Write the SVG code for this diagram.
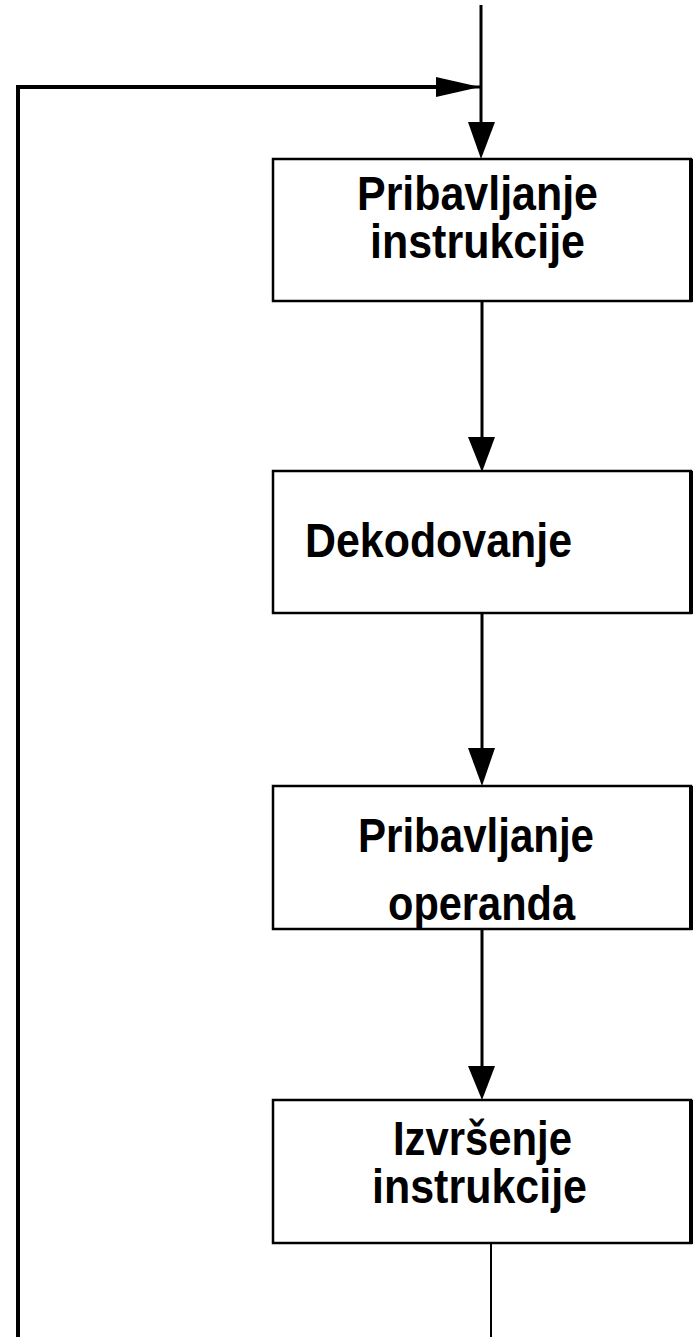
<svg xmlns="http://www.w3.org/2000/svg" width="696" height="1337" viewBox="0 0 696 1337">
  <style>
    .box { fill: #ffffff; stroke: #000000; stroke-width: 2.5; }
    .edge { fill: none; stroke: #000000; stroke-width: 4; }
    .line { fill: none; stroke: #000000; stroke-width: 3; }
    .loop { fill: none; stroke: #000000; stroke-width: 4; }
    .thin { fill: none; stroke: #000000; stroke-width: 2; }
    .head { fill: #000000; }
    .label { font-family: "Liberation Sans", Arial, sans-serif; font-weight: bold; font-size: 49px; fill: #000000; }
  </style>

  <g id="connectors">
    <!-- entry line from the top -->
    <line class="line" x1="481" y1="5" x2="481" y2="125"/>
    <polygon class="head" points="468,122 495,122 481,159"/>
    <!-- loop back from the last step -->
    <polyline class="loop" points="18,1337 18,87 440,87"/>
    <line class="line" x1="436" y1="87" x2="481" y2="87"/>
    <polygon class="head" points="436,77 436,97 480,87"/>
    <!-- step to step -->
    <line class="line" x1="482" y1="301" x2="482" y2="440"/>
    <polygon class="head" points="468,437 495,437 482,472"/>
    <line class="line" x1="482" y1="613" x2="482" y2="752"/>
    <polygon class="head" points="468,748 495,748 482,786"/>
    <line class="line" x1="482" y1="929" x2="482" y2="1069"/>
    <polygon class="head" points="468,1066 495,1066 482,1100"/>
    <!-- exit from the last step -->
    <line class="thin" x1="491" y1="1243" x2="491" y2="1337"/>
  </g>

  <g id="fetch-instruction">
    <rect class="box" x="273" y="159" width="418" height="142"/>
    <line class="edge" x1="691" y1="159" x2="691" y2="302"/>
    <text class="label" x="357" y="210" textLength="241" lengthAdjust="spacingAndGlyphs">Pribavljanje</text>
    <text class="label" x="370" y="258" textLength="215" lengthAdjust="spacingAndGlyphs">instrukcije</text>
  </g>

  <g id="decode">
    <rect class="box" x="273" y="471" width="418" height="142"/>
    <line class="edge" x1="691" y1="471" x2="691" y2="614"/>
    <text class="label" x="305" y="557" textLength="267" lengthAdjust="spacingAndGlyphs">Dekodovanje</text>
  </g>

  <g id="fetch-operand">
    <rect class="box" x="273" y="786" width="418" height="143"/>
    <line class="edge" x1="691" y1="786" x2="691" y2="930"/>
    <text class="label" x="358" y="852" textLength="236" lengthAdjust="spacingAndGlyphs">Pribavljanje</text>
    <text class="label" x="388" y="920" textLength="187" lengthAdjust="spacingAndGlyphs">operanda</text>
  </g>

  <g id="execute">
    <rect class="box" x="273" y="1100" width="418" height="143"/>
    <line class="edge" x1="691" y1="1100" x2="691" y2="1244"/>
    <text class="label" x="393" y="1155" textLength="179" lengthAdjust="spacingAndGlyphs">Izvršenje</text>
    <text class="label" x="372" y="1203" textLength="215" lengthAdjust="spacingAndGlyphs">instrukcije</text>
  </g>
</svg>
